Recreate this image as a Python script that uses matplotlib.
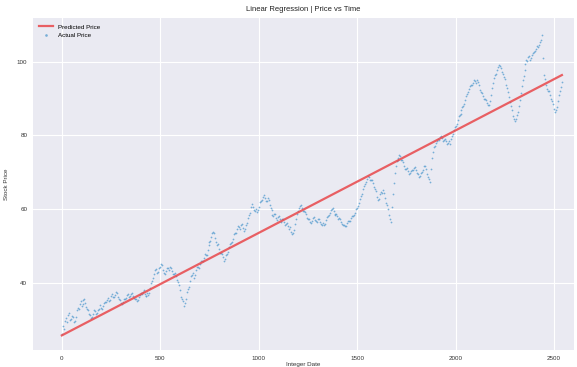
import numpy as np
import matplotlib
matplotlib.use("Agg")
import matplotlib.pyplot as plt

dates = list(range(0, 2550, 10))
prices = [
    26.2, 27.5, 30.5, 31.2, 29.8, 31.0, 29.4, 30.8, 33.2, 34.1, 33.6,
    35.2, 34.6, 33.0, 31.4, 30.3, 31.5, 32.4, 31.8, 32.9, 33.2,
    33.8, 34.9, 35.4, 35.0, 36.3, 36.0, 36.8, 37.1, 35.6, 34.5,
    34.8, 35.7, 36.6, 36.1, 36.9, 36.4, 35.5, 35.1, 36.0, 37.2,
    37.6, 37.0, 36.4, 36.6, 38.5, 40.6, 42.3, 43.6, 43.0, 44.3,
    44.7, 42.6, 43.1, 44.0, 44.2, 43.3, 42.5, 41.8, 40.2, 38.0,
    35.5, 33.8, 35.6, 38.2, 40.5, 42.1, 41.4, 43.5, 44.3, 45.0,
    46.0, 46.8, 47.6, 48.8, 51.0, 52.5, 53.7, 52.2, 50.3, 49.2,
    48.0, 46.9, 46.4, 47.8, 49.6, 50.8, 52.0, 53.4, 54.6, 55.2,
    55.6, 54.8, 54.5, 56.2, 58.4, 60.5, 60.7, 59.6, 59.2, 60.6,
    62.2, 63.4, 63.0, 62.3, 62.6, 60.4, 58.3, 58.8, 57.6, 57.9,
    57.2, 57.4, 56.6, 56.0, 55.4, 55.0, 53.2, 54.4, 57.2, 59.6,
    60.8, 60.2, 59.4, 58.6, 57.4, 56.5, 56.9, 57.8, 56.8, 57.3,
    56.6, 55.8, 55.6, 57.0, 58.2, 59.0, 60.0, 59.4, 58.5, 58.1,
    57.6, 56.5, 55.8, 55.3, 56.2, 56.9, 57.5, 58.2, 59.0, 60.4,
    61.6, 63.5, 65.4, 66.8, 68.3, 68.7, 67.9, 67.2, 65.5, 63.4,
    62.8, 64.6, 65.2, 63.0, 61.0, 58.5, 56.6, 64.0, 69.8, 73.0,
    73.9, 74.3, 73.2, 71.8, 70.9, 70.4, 69.8, 70.5, 71.2, 70.6,
    69.5, 68.9, 70.2, 71.6, 70.8, 68.6, 67.4, 74.0, 76.8, 77.9,
    79.0, 79.6, 79.2, 78.8, 78.5, 77.9, 77.6, 79.8, 81.4, 82.6,
    84.2, 85.6, 86.8, 88.1, 89.6, 91.2, 92.7, 93.6, 94.3, 94.8,
    95.1, 93.6, 91.8, 90.6, 89.8, 88.9, 88.4, 91.0, 94.2, 96.5,
    97.8, 99.2, 98.2, 96.6, 95.2, 92.8, 90.5, 88.0, 85.4, 84.0,
    85.6, 88.0, 91.4, 95.0, 97.8, 100.6, 101.2, 100.5, 101.9, 102.6,
    103.6, 104.0, 105.4, 107.3, 96.5, 93.8, 92.2, 91.1, 89.4, 87.2,
    86.8, 89.4, 92.0, 94.6,
]
dates_mid = list(range(5, 2540, 10))
prices_mid = [
    28.3, 29.6, 29.4, 31.9, 30.1, 30.6, 29.5, 32.5, 33.0, 35.0,
    34.2, 35.6, 33.4, 32.6, 31.2, 30.6, 32.6, 31.4, 32.7, 34.0,
    33.0, 34.6, 34.8, 35.9, 35.2, 36.9, 36.2, 37.4, 36.1, 35.4,
    34.1, 35.5, 35.9, 37.0, 36.3, 37.1, 35.8, 35.6, 35.2, 36.8,
    36.9, 37.9, 36.3, 37.1, 37.3, 39.8, 41.2, 43.4, 42.6, 43.9,
    45.2, 43.4, 42.3, 43.9, 43.4, 44.0, 42.4, 42.6, 40.7, 39.4,
    36.2, 35.0, 34.4, 37.4, 38.9, 41.8, 42.6, 42.2, 44.2, 44.1,
    45.9, 45.8, 47.8, 47.6, 50.3, 51.2, 53.6, 53.5, 51.0, 50.4,
    48.2, 47.8, 46.0, 47.4, 48.4, 50.6, 51.0, 53.2, 53.6, 55.5,
    54.7, 55.9, 54.0, 55.6, 57.6, 59.0, 61.3, 59.8, 59.9, 59.7,
    61.8, 62.4, 63.9, 62.2, 63.1, 61.2, 59.8, 58.0, 58.6, 57.0,
    58.0, 56.6, 57.3, 55.8, 56.1, 54.6, 53.9, 53.4, 55.9, 58.6,
    60.4, 61.0, 59.6, 59.3, 57.7, 57.3, 56.2, 57.6, 57.0, 56.4,
    57.4, 56.0, 56.3, 56.0, 57.9, 58.4, 59.8, 60.3, 58.8, 58.6,
    57.4, 57.2, 55.9, 55.8, 55.5, 56.8, 56.9, 58.0, 58.4, 59.9,
    60.8, 62.8, 64.2, 66.4, 67.3, 69.0, 68.0, 67.8, 66.0, 64.8,
    62.6, 64.0, 64.4, 64.3, 61.7, 60.0, 57.2, 60.5, 67.2, 71.6,
    73.2, 74.6, 73.4, 72.8, 71.0, 71.1, 69.6, 70.4, 70.6, 71.4,
    69.8, 68.7, 69.8, 70.6, 71.8, 69.4, 68.3, 71.0, 75.6, 77.0,
    78.6, 78.8, 79.9, 78.6, 79.0, 77.6, 78.4, 78.9, 80.3, 82.3,
    83.1, 85.2, 85.8, 87.7, 88.6, 90.6, 91.8, 93.5, 93.6, 95.0,
    94.3, 94.6, 92.4, 91.5, 89.8, 89.6, 88.2, 89.4, 92.9, 95.6,
    96.8, 98.7, 98.9, 97.2, 96.0, 93.8, 91.9, 89.0, 86.9, 84.4,
    84.6, 86.5, 89.5, 93.4, 96.1, 99.4, 100.3, 101.6, 100.9, 102.5,
    102.8, 104.4, 104.6, 106.0, 101.0, 95.4, 92.6, 92.0, 90.0, 88.6,
    86.4, 87.8, 90.9, 93.2,
]
pred_dates = [0, 2540]
pred_prices = [25.7, 96.4]

yticks = [40, 60, 80, 100]
xticks = [0, 500, 1000, 1500, 2000, 2500]

all_dates = dates + dates_mid
all_prices = prices + prices_mid

plt.rcParams['font.family'] = ['Liberation Sans', 'DejaVu Sans']
fig = plt.figure(figsize=(5.77, 3.67), dpi=100)
ax = fig.add_axes([0.057, 0.045, 0.938, 0.906])
ax.set_facecolor('#EAEAF2')
for s in ax.spines.values():
    s.set_visible(False)
ax.grid(True, color='white', linewidth=0.8)
ax.set_axisbelow(True)

ax.plot(pred_dates, pred_prices, color='#e8474a', linewidth=1.6, alpha=0.85,
        label='Predicted Price', zorder=3)
ax.scatter(all_dates, all_prices, s=1.6, color='#5b9fd0', alpha=0.8, marker='o',
           linewidths=0, label='Actual Price', zorder=2)

ax.set_xlim(-147, 2602)
ax.set_ylim(21.6, 111.9)
ax.set_xticks(xticks)
ax.set_yticks(yticks)
ax.tick_params(axis='both', length=0, labelsize=4.5, labelcolor='#333333', pad=4)
ax.set_title('Linear Regression | Price vs Time', fontsize=5.5, color='#222222', pad=5)
ax.set_xlabel('Integer Date', fontsize=4.5, color='#333333', labelpad=1)
ax.set_ylabel('Stock Price', fontsize=4.5, color='#333333', labelpad=6)
ax.legend(loc='upper left', fontsize=4.5, frameon=False, markerscale=1.5,
          handlelength=2.2, borderaxespad=0.6)

fig.savefig('out.png', dpi=100)
